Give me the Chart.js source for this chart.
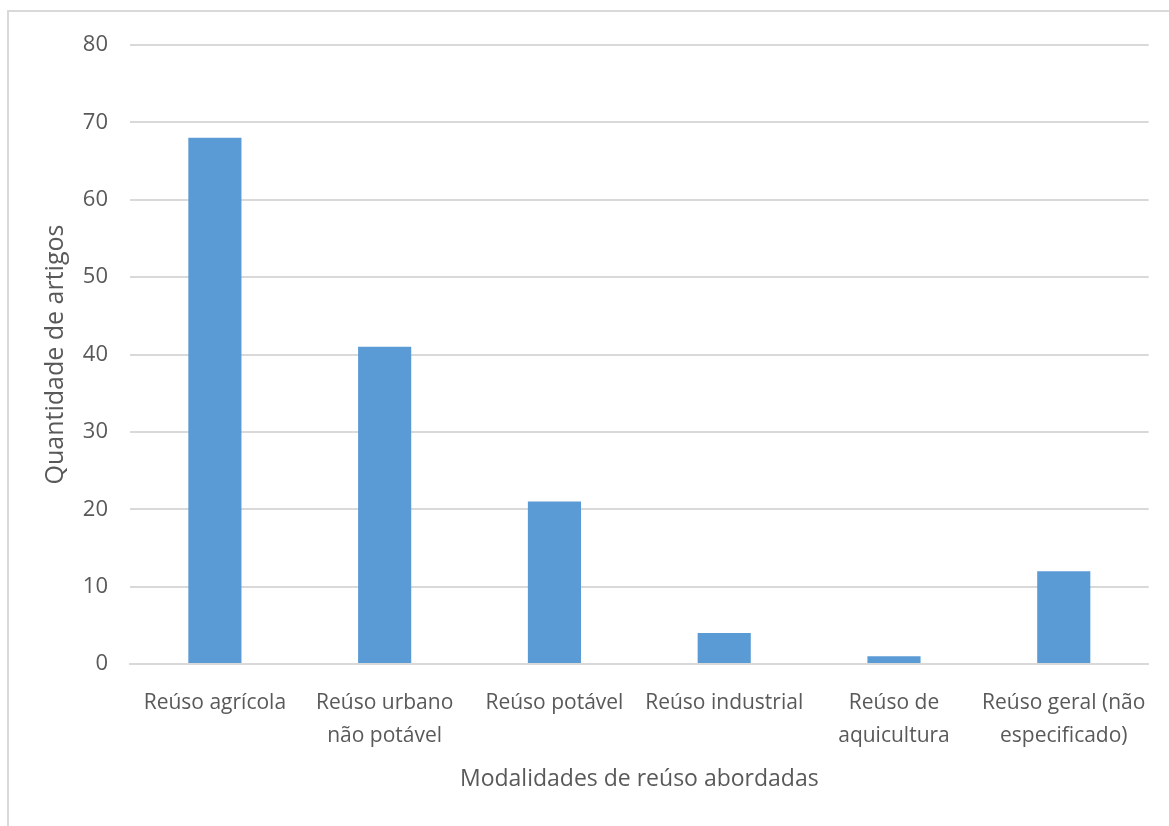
<!DOCTYPE html>
<html>
<head>
<meta charset="utf-8">
<script src="https://cdn.jsdelivr.net/npm/chart.js@4.4.1/dist/chart.umd.min.js"></script>
<style>
  html, body { margin: 0; padding: 0; background: #fff; overflow: hidden; }
  #wrap { position: relative; width: 1169px; height: 826px; }
  #frame { position: absolute; left: 7px; top: 10px; width: 1200px; height: 900px;
           border-left: 2px solid #d9d9d9; border-top: 2px solid #d9d9d9; }
  canvas { position: absolute; left: 0; top: 0; }
</style>
</head>
<body>
<div id="wrap">
  <div id="frame"></div>
  <canvas id="grafico" width="1169" height="826"></canvas>
</div>
<script>
// dados do grafico
const categorias = [
  'Reúso agrícola',
  ['Reúso urbano', 'não potável'],
  'Reúso potável',
  'Reúso industrial',
  ['Reúso de', 'aquicultura'],
  ['Reúso geral (não', 'especificado)']
];
const quantidades = [68, 41, 21, 4, 1, 12];
const ticksY = [0, 10, 20, 30, 40, 50, 60, 70, 80];

const corTexto = '#595959';
const fonte = 'Open Sans';

const ctx = document.getElementById('grafico').getContext('2d');
new Chart(ctx, {
  type: 'bar',
  data: {
    labels: categorias,
    datasets: [{
      data: quantidades,
      backgroundColor: '#5b9bd5',
      borderWidth: 0,
      barPercentage: 0.313,
      categoryPercentage: 1
    }]
  },
  options: {
    responsive: false,
    animation: false,
    layout: { padding: { left: 0, top: 45, right: 19, bottom: 0 } },
    plugins: { legend: { display: false }, tooltip: { enabled: false } },
    scales: {
      x: {
        grid: { display: false, drawTicks: false },
        border: { display: true, color: '#d9d9d9', width: 2 },
        ticks: {
          color: corTexto,
          padding: 22,
          maxRotation: 0,
          autoSkip: false,
          font: { family: fonte, size: 21, lineHeight: 1.6 }
        },
        title: {
          display: true,
          text: 'Modalidades de reúso abordadas',
          color: corTexto,
          font: { family: fonte, size: 23 },
          padding: { top: 0, bottom: 33 }
        },
        afterFit: function(scale) { scale.height = 162; }
      },
      y: {
        min: 0,
        max: 80,
        afterBuildTicks: function(scale) {
          scale.ticks = ticksY.map(v => ({ value: v }));
        },
        grid: { color: '#d9d9d9', lineWidth: 2, drawTicks: false },
        border: { display: false },
        ticks: {
          color: corTexto,
          padding: 22,
          font: { family: fonte, size: 22 }
        },
        title: {
          display: true,
          text: 'Quantidade de artigos',
          color: corTexto,
          font: { family: fonte, size: 25 },
          padding: { top: 41, bottom: 0 }
        },
        afterFit: function(scale) { scale.width = 130; }
      }
    }
  }
});
</script>
</body>
</html>
